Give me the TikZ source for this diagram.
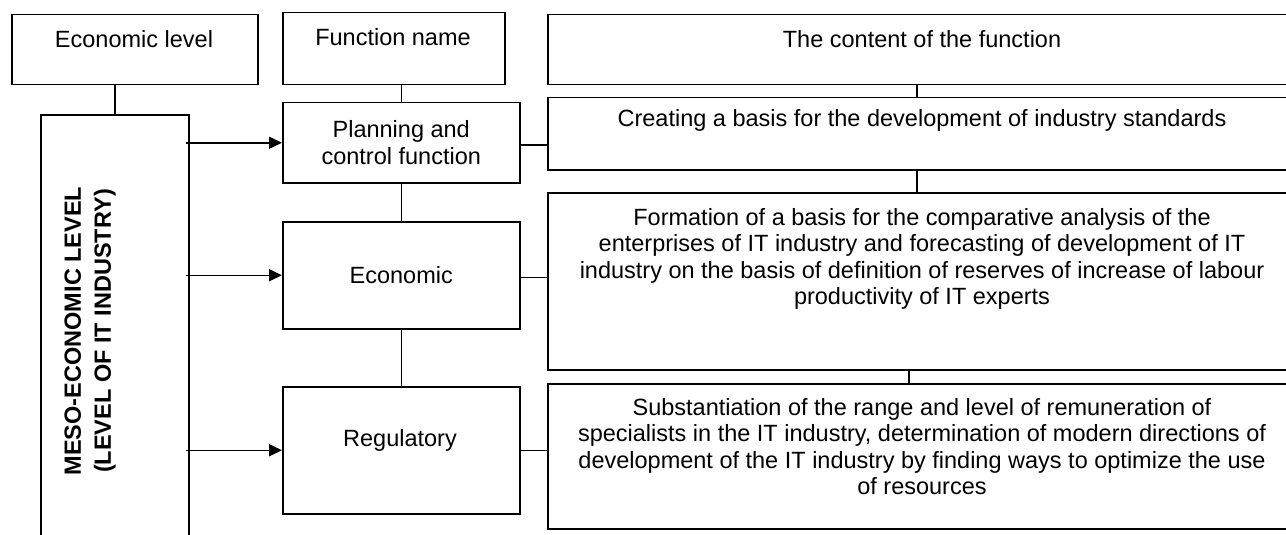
\documentclass[tikz,border=0pt]{standalone}
\usepackage{fontspec}
\setmainfont{Liberation Sans}
\usetikzlibrary{positioning, arrows.meta, calc}

\tikzset{
  box/.style={draw, line width=1.5pt, inner sep=0pt, anchor=north west},
  txt/.style={inner sep=0pt, anchor=north, align=center},
  link/.style={line width=1.5pt},
  arr/.style={line width=1.5pt, -{Triangle[length=13pt, width=12pt]}},
}

\begin{document}
\begin{tikzpicture}[x=1pt, y=-1pt, font=\fontsize{23.5}{26.5}\selectfont]
	\clip (0,0) rectangle (1286,535);
	% left column
	\node[box, minimum width=246pt, minimum height=70pt] (level) at (11,14) {};
	\node[txt] (leveltxt) at (134,30) {Economic level};
	\node[box, minimum width=148pt, minimum height=450pt] (meso) at (40,114) {};
	\node[rotate=90, align=center, inner sep=0pt, font=\fontsize{23.5}{30}\selectfont\bfseries] (mesotxt) at (90,331) {MESO-ECONOMIC LEVEL\\(LEVEL OF IT INDUSTRY)};
	% function names
	\node[box, minimum width=222pt, minimum height=72pt] (fname) at (282,12) {};
	\node[txt] (fnametxt) at (393,28) {Function name};
	\node[box, minimum width=237pt, minimum height=80pt, align=center] (plan) at (282,102) {Planning and\\control function};
	\node[box, minimum width=237pt, minimum height=107pt] (econ) at (282,221) {Economic};
	\node[box, minimum width=237pt, minimum height=127pt] (reg) at (282,386) {};
	\node[txt] (regtxt) at (400,429) {Regulatory};
	% contents
	\node[box, minimum width=750pt, minimum height=70pt] (head) at (547,14) {};
	\node[txt] (headtxt) at (922,30) {The content of the function};
	\node[box, minimum width=750pt, minimum height=72pt] (create) at (547,97) {};
	\node[txt] (createtxt) at (922,109) {Creating a basis for the development of industry standards};
	\node[box, minimum width=750pt, minimum height=177pt] (form) at (547,192) {};
	\node[txt] (formtxt) at (922,208) {Formation of a basis for the comparative analysis of the\\
		enterprises of IT industry and forecasting of development of IT\\
		industry on the basis of definition of reserves of increase of labour\\
		productivity of IT experts};
	\node[box, minimum width=750pt, minimum height=145pt] (subst) at (547,383) {};
	\node[txt] (substtxt) at (922,398) {Substantiation of the range and level of remuneration of\\
		specialists in the IT industry, determination of modern directions of\\
		development of the IT industry by finding ways to optimize the use\\
		of resources};
	% connectors
	\draw[link] (meso.north) -- (meso.north |- level.south);
	\draw[link] (plan.north) -- (plan.north |- fname.south);
	\draw[link] (plan.south) -- (econ.north);
	\draw[link] (econ.south) -- (reg.north);
	\draw[link] ([xshift=-6pt]head.south) -- ([xshift=-6pt]create.north);
	\draw[link] ([xshift=-6pt]create.south) -- ([xshift=-6pt]form.north);
	\draw[link] ([xshift=-14pt]form.south) -- ([xshift=-14pt]subst.north);
	\draw[link] ([yshift=-2pt]plan.east) -- ([yshift=-2pt]plan.east -| create.west);
	\draw[link] ([yshift=-2pt]econ.east) -- ([yshift=-2pt]econ.east -| form.west);
	\draw[link] (reg.east) -- (reg.east -| subst.west);
	\foreach \f in {plan, econ, reg}
		\draw[arr] ([xshift=-4pt]meso.east |- \f.west) -- (\f.west);
\end{tikzpicture}
\end{document}
